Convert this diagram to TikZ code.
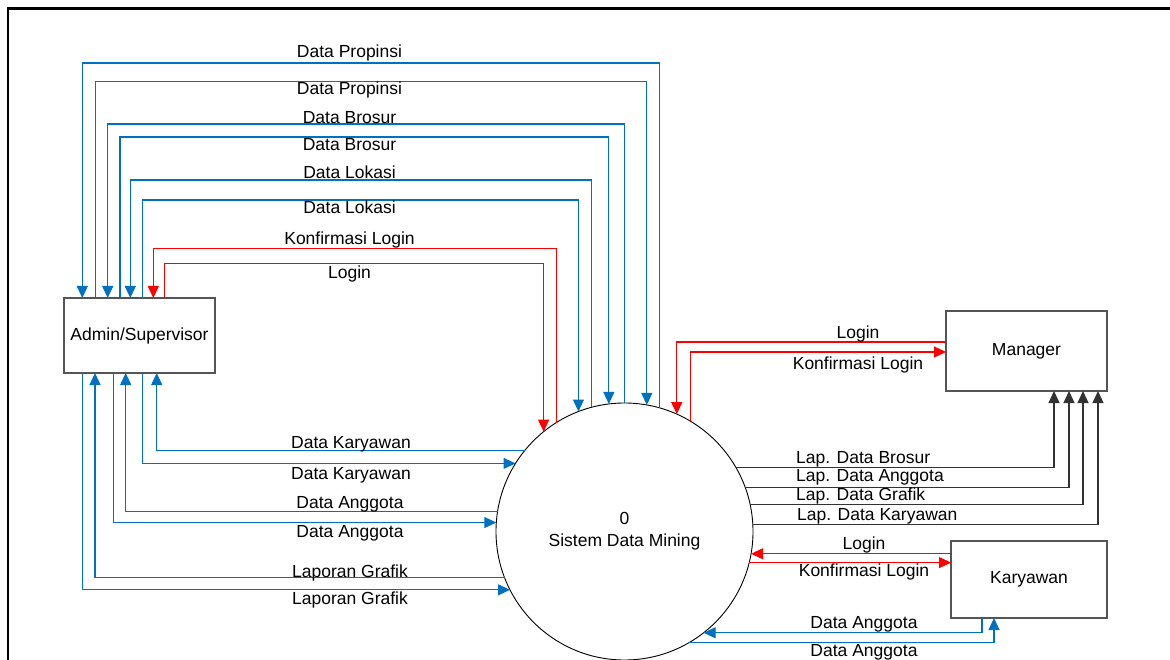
\documentclass[tikz,border=0pt]{standalone}
\usepackage{fontspec}
\setmainfont{Liberation Sans}
\usetikzlibrary{arrows.meta}
\definecolor{flowblue}{RGB}{0,112,192}
\definecolor{flowred}{RGB}{255,0,0}
\definecolor{boxgray}{RGB}{85,85,85}
\definecolor{repgray}{RGB}{50,50,50}
\begin{document}
\begin{tikzpicture}[x=1pt,y=-1pt,
  lbl/.style={font=\fontsize{17.5}{22}\selectfont, inner sep=0pt, text height=12.5pt, text depth=0pt},
  entity/.style={draw=boxgray, line width=1.3pt, inner sep=0pt, outer sep=0pt, font=\fontsize{17.5}{22}\selectfont},
  procnode/.style={circle, draw=black, line width=0.9pt, inner sep=0pt, outer sep=0pt, minimum size=257pt, align=center, font=\fontsize{17.5}{22}\selectfont},
  tipend/.style={-{Triangle[length=12pt,width=11pt]}},
  bflow/.style={draw=flowblue, line width=1.1pt},
  rflow/.style={draw=flowred, line width=1.1pt},
  kflow/.style={draw=repgray, line width=1.1pt},
  frameline/.style={draw=black, line width=2.4pt}
]
\useasboundingbox (0,0) rectangle (1170,660);
\clip (0,0) rectangle (1170,660);

% frame
\coordinate (fr1) at (1170,8.7);
\coordinate (fr2) at (7.7,8.7);
\coordinate (fr3) at (7.7,662);
\draw[frameline] (fr1) -- (fr2) -- (fr3);

% nodes
\node[entity, minimum width=151pt, minimum height=75pt] (adm) at (139.5,335.5) {Admin/Supervisor};
\node[entity, minimum width=161pt, minimum height=80pt] (man) at (1026.5,351) {Manager};
\node[entity, minimum width=156pt, minimum height=77pt] (kar) at (1029,579.5) {Karyawan};
\node[procnode] (c) at (624.5,531.5) {0\\Sistem Data Mining};

% heights of the upper flows
\coordinate (h1) at (0,63);
\coordinate (h2) at (0,81.3);
\coordinate (h3) at (0,124);
\coordinate (h4) at (0,137);
\coordinate (h5) at (0,180);
\coordinate (h6) at (0,200);
\coordinate (h7) at (0,248.3);
\coordinate (h8) at (0,263.3);

% upper flows Admin <-> System
\draw[bflow,tipend] (c.74.75) -- (c.74.75|-h1) -| ([xshift=18.3pt]adm.north west);
\draw[bflow,tipend] ([xshift=31.3pt]adm.north west) |- (h2-|c.80.37) -- (c.80.37);
\draw[bflow,tipend] (c.90.22) -- (c.90.22|-h3) -| ([xshift=43.7pt]adm.north west);
\draw[bflow,tipend] ([xshift=56pt]adm.north west) |- (h4-|c.97.24) -- (c.97.24);
\draw[bflow,tipend] (c.105.90) -- (c.105.90|-h5) -| ([xshift=66.3pt]adm.north west);
\draw[bflow,tipend] ([xshift=78.7pt]adm.north west) |- (h6-|c.111.84) -- (c.111.84);
\draw[rflow,tipend] (c.122.21) -- (c.122.21|-h7) -| ([xshift=89.3pt]adm.north west);
\draw[rflow,tipend] ([xshift=100.3pt]adm.north west) |- (h8-|c.129.19) -- (c.129.19);

% lower flows Admin <-> System
\draw[bflow,tipend] (c.141.78) -| ([xshift=92.7pt]adm.south west);
\draw[bflow,tipend] ([xshift=78.7pt]adm.south west) |- (c.148.83);
\draw[bflow,tipend] (c.171.72) -| ([xshift=61.7pt]adm.south west);
\draw[bflow,tipend] ([xshift=49.3pt]adm.south west) |- (c.176.21);
\draw[bflow,tipend] (c.201.69) -| ([xshift=31pt]adm.south west);
\draw[bflow,tipend] ([xshift=18.7pt]adm.south west) |- (c.207.08);

% Manager
\draw[rflow,tipend] ([yshift=9pt]man.west) -| (c.66.86);
\draw[rflow,tipend] (c.59.87) |- ([yshift=-1pt]man.west);
\draw[kflow,tipend] (c.30.65) -| ([xshift=108pt]man.south west);
\draw[kflow,tipend] (c.20.74) -| ([xshift=123pt]man.south west);
\draw[kflow,tipend] (c.12.36) -| ([xshift=137pt]man.south west);
\draw[kflow,tipend] (c.3.35) -| ([xshift=152pt]man.south west);

% Karyawan
\draw[rflow,tipend] (c.350.82-|kar.west) -- (c.350.82);
\draw[rflow,tipend] (c.346.27) -- (c.346.27-|kar.west);
\draw[bflow,tipend] ([xshift=31pt]kar.south west) |- (c.308.54);
\draw[bflow,tipend] (c.300.69) -| ([xshift=43pt]kar.south west);

% labels upper
\node[lbl] (t1) at (349.5,51) {Data Propinsi};
\node[lbl] (t2) at (349.5,88) {Data Propinsi};
\node[lbl] (t3) at (349.5,117) {Data Brosur};
\node[lbl] (t4) at (349.5,144) {Data Brosur};
\node[lbl] (t5) at (349.5,172) {Data Lokasi};
\node[lbl] (t6) at (349.5,207) {Data Lokasi};
\node[lbl] (t7) at (349.5,238) {Konfirmasi Login};
\node[lbl] (t8) at (349.5,272) {Login};
% labels lower
\node[lbl] (b1) at (351,442) {Data Karyawan};
\node[lbl] (b2) at (351,473) {Data Karyawan};
\node[lbl] (b3) at (350,502) {Data Anggota};
\node[lbl] (b4) at (350,531) {Data Anggota};
\node[lbl] (b5) at (350,571) {Laporan Grafik};
\node[lbl] (b6) at (350,598) {Laporan Grafik};
% labels manager
\node[lbl] (m1) at (858,332) {Login};
\node[lbl] (m2) at (858,363) {Konfirmasi Login};
\node[lbl, anchor=west] (r1) at (796,457) {Lap. Data Brosur};
\node[lbl, anchor=west] (r2) at (796,475) {Lap. Data Anggota};
\node[lbl, anchor=west] (r3) at (796,494) {Lap. Data Grafik};
\node[lbl, anchor=west] (r4) at (797,514) {Lap. Data Karyawan};
% labels karyawan
\node[lbl] (k1) at (864,543) {Login};
\node[lbl] (k2) at (864,570) {Konfirmasi Login};
\node[lbl] (k3) at (864,622) {Data Anggota};
\node[lbl] (k4) at (864,650) {Data Anggota};
\end{tikzpicture}
\end{document}
